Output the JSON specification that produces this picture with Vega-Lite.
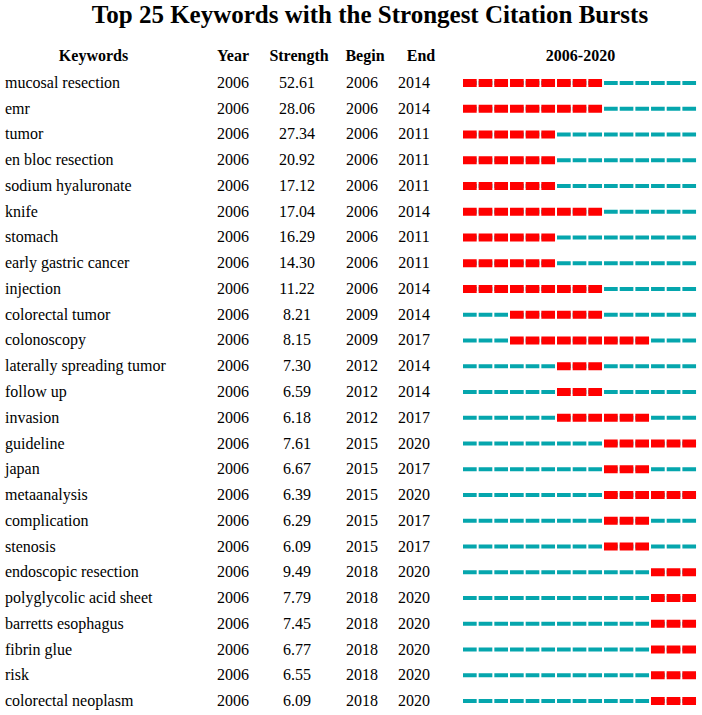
{
  "$schema": "https://vega.github.io/schema/vega-lite/v6.json",
  "padding": {"left": 0, "top": 3, "right": 4, "bottom": 0},
  "background": "white",
  "title": {"text": "Top 25 Keywords with the Strongest Citation Bursts", "font": "Liberation Serif", "fontSize": 25, "fontWeight": "bold", "color": "black", "anchor": "middle", "dx": 19, "offset": 20},
  "spacing": 0,
  "config": {"view": {"stroke": null}, "axis": {"disable": true}},
  "data": {"values": [
    {"Keyword": "mucosal resection", "Year": 2006, "Strength": 52.61, "Begin": 2006, "End": 2014},
    {"Keyword": "emr", "Year": 2006, "Strength": 28.06, "Begin": 2006, "End": 2014},
    {"Keyword": "tumor", "Year": 2006, "Strength": 27.34, "Begin": 2006, "End": 2011},
    {"Keyword": "en bloc resection", "Year": 2006, "Strength": 20.92, "Begin": 2006, "End": 2011},
    {"Keyword": "sodium hyaluronate", "Year": 2006, "Strength": 17.12, "Begin": 2006, "End": 2011},
    {"Keyword": "knife", "Year": 2006, "Strength": 17.04, "Begin": 2006, "End": 2014},
    {"Keyword": "stomach", "Year": 2006, "Strength": 16.29, "Begin": 2006, "End": 2011},
    {"Keyword": "early gastric cancer", "Year": 2006, "Strength": 14.30, "Begin": 2006, "End": 2011},
    {"Keyword": "injection", "Year": 2006, "Strength": 11.22, "Begin": 2006, "End": 2014},
    {"Keyword": "colorectal tumor", "Year": 2006, "Strength": 8.21, "Begin": 2009, "End": 2014},
    {"Keyword": "colonoscopy", "Year": 2006, "Strength": 8.15, "Begin": 2009, "End": 2017},
    {"Keyword": "laterally spreading tumor", "Year": 2006, "Strength": 7.30, "Begin": 2012, "End": 2014},
    {"Keyword": "follow up", "Year": 2006, "Strength": 6.59, "Begin": 2012, "End": 2014},
    {"Keyword": "invasion", "Year": 2006, "Strength": 6.18, "Begin": 2012, "End": 2017},
    {"Keyword": "guideline", "Year": 2006, "Strength": 7.61, "Begin": 2015, "End": 2020},
    {"Keyword": "japan", "Year": 2006, "Strength": 6.67, "Begin": 2015, "End": 2017},
    {"Keyword": "metaanalysis", "Year": 2006, "Strength": 6.39, "Begin": 2015, "End": 2020},
    {"Keyword": "complication", "Year": 2006, "Strength": 6.29, "Begin": 2015, "End": 2017},
    {"Keyword": "stenosis", "Year": 2006, "Strength": 6.09, "Begin": 2015, "End": 2017},
    {"Keyword": "endoscopic resection", "Year": 2006, "Strength": 9.49, "Begin": 2018, "End": 2020},
    {"Keyword": "polyglycolic acid sheet", "Year": 2006, "Strength": 7.79, "Begin": 2018, "End": 2020},
    {"Keyword": "barretts esophagus", "Year": 2006, "Strength": 7.45, "Begin": 2018, "End": 2020},
    {"Keyword": "fibrin glue", "Year": 2006, "Strength": 6.77, "Begin": 2018, "End": 2020},
    {"Keyword": "risk", "Year": 2006, "Strength": 6.55, "Begin": 2018, "End": 2020},
    {"Keyword": "colorectal neoplasm", "Year": 2006, "Strength": 6.09, "Begin": 2018, "End": 2020}
  ]},
  "hconcat": [
    {
      "width": 203, "height": 644,
      "title": {"text": "Keywords", "font": "Liberation Serif", "fontSize": 16, "fontWeight": "bold", "color": "black", "anchor": "middle", "dx": -8, "offset": 6},
      "mark": {"type": "text", "align": "left", "dx": -96.5, "font": "Liberation Serif", "fontSize": 16, "color": "black"},
      "encoding": {
        "y": {"field": "Keyword", "type": "nominal", "sort": null, "axis": null},
        "text": {"field": "Keyword", "type": "nominal"}
      }
    },
    {
      "width": 60, "height": 644,
      "title": {"text": "Year", "font": "Liberation Serif", "fontSize": 16, "fontWeight": "bold", "color": "black", "anchor": "middle", "offset": 6},
      "mark": {"type": "text", "align": "center", "font": "Liberation Serif", "fontSize": 16, "color": "black"},
      "encoding": {
        "y": {"field": "Keyword", "type": "nominal", "sort": null, "axis": null},
        "text": {"field": "Year", "type": "quantitative", "format": "d"}
      }
    },
    {
      "width": 68, "height": 644,
      "title": {"text": "Strength", "font": "Liberation Serif", "fontSize": 16, "fontWeight": "bold", "color": "black", "anchor": "middle", "dx": 2, "offset": 6},
      "mark": {"type": "text", "align": "center", "font": "Liberation Serif", "fontSize": 16, "color": "black"},
      "encoding": {
        "y": {"field": "Keyword", "type": "nominal", "sort": null, "axis": null},
        "text": {"field": "Strength", "type": "quantitative", "format": ".2f"}
      }
    },
    {
      "width": 62, "height": 644,
      "title": {"text": "Begin", "font": "Liberation Serif", "fontSize": 16, "fontWeight": "bold", "color": "black", "anchor": "middle", "dx": 3, "offset": 6},
      "mark": {"type": "text", "align": "center", "font": "Liberation Serif", "fontSize": 16, "color": "black"},
      "encoding": {
        "y": {"field": "Keyword", "type": "nominal", "sort": null, "axis": null},
        "text": {"field": "Begin", "type": "quantitative", "format": "d"}
      }
    },
    {
      "width": 66, "height": 644,
      "title": {"text": "End", "font": "Liberation Serif", "fontSize": 16, "fontWeight": "bold", "color": "black", "anchor": "middle", "dx": -5, "offset": 6},
      "mark": {"type": "text", "align": "center", "dx": -12, "font": "Liberation Serif", "fontSize": 16, "color": "black"},
      "encoding": {
        "y": {"field": "Keyword", "type": "nominal", "sort": null, "axis": null},
        "text": {"field": "End", "type": "quantitative", "format": "d"}
      }
    },
    {
      "width": 235, "height": 644,
      "title": {"text": "2006-2020", "font": "Liberation Serif", "fontSize": 16, "fontWeight": "bold", "color": "black", "anchor": "middle", "offset": 6},
      "transform": [{"calculate": "datum.End + 1", "as": "Stop"}],
      "layer": [
        {
          "mark": {"type": "rule", "color": "#05A6AD", "strokeWidth": 4, "strokeDash": [13.67, 2], "strokeCap": "butt"},
          "encoding": {
            "y": {"field": "Keyword", "type": "nominal", "sort": null, "axis": null},
            "x": {"field": "Year", "type": "quantitative", "scale": {"domain": [2006, 2021], "nice": false, "zero": false}, "axis": null},
            "x2": {"datum": 2021}
          }
        },
        {
          "mark": {"type": "rule", "color": "#FF0000", "strokeWidth": 8, "strokeDash": [13.67, 2], "strokeCap": "butt"},
          "encoding": {
            "y": {"field": "Keyword", "type": "nominal", "sort": null, "axis": null},
            "x": {"field": "Begin", "type": "quantitative", "scale": {"domain": [2006, 2021], "nice": false, "zero": false}, "axis": null},
            "x2": {"field": "Stop"}
          }
        }
      ]
    }
  ]
}
